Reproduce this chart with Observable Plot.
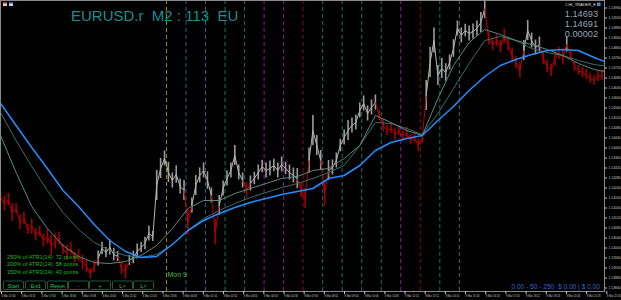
<!DOCTYPE html>
<html><head><meta charset="utf-8">
<script src="https://cdn.jsdelivr.net/npm/d3@7"></script>
<script src="https://cdn.jsdelivr.net/npm/@observablehq/plot@0.6"></script>
<style>html,body{margin:0;padding:0;background:#000;overflow:hidden}</style>
</head><body><div id="chart"></div>
<script>
// ---- data (EURUSD.r, M2 bars) ----
const barsPerPriceSample = 6;
const barsPerMaSample = 24;
const totalBars = 928;
const sessionStartBar = 255;   // Mon 9 Mar 00:00
const barsPerHour = 30;

const price = [1.14206,1.14178,1.14194,1.14142,1.14158,1.14102,1.14118,1.14074,1.14086,1.14054,
1.14066,1.14030,1.14046,1.14010,1.14026,1.14038,1.13994,1.13982,1.13998,1.13962,
1.13970,1.13942,1.13926,1.13898,1.13926,1.13958,1.13998,1.13982,1.14002,1.13974,
1.13966,1.13918,1.13906,1.13950,1.13962,1.13986,1.14002,1.14018,1.14058,1.14046,
1.14250,1.14318,1.14358,1.14302,1.14270,1.14294,1.14246,1.14230,1.14102,1.14170,
1.14250,1.14290,1.14310,1.14270,1.14210,1.14062,1.14170,1.14238,1.14278,1.14310,
1.14370,1.14302,1.14270,1.14230,1.14258,1.14278,1.14302,1.14326,1.14310,1.14318,
1.14330,1.14310,1.14334,1.14318,1.14302,1.14290,1.14278,1.14230,1.14198,1.14350,
1.14470,1.14410,1.14350,1.14218,1.14310,1.14322,1.14350,1.14410,1.14442,1.14470,
1.14490,1.14502,1.14550,1.14578,1.14538,1.14562,1.14582,1.14530,1.14490,1.14470,
1.14478,1.14454,1.14470,1.14446,1.14458,1.14434,1.14442,1.14410,1.14438,1.14610,
1.14742,1.14830,1.14690,1.14718,1.14702,1.14742,1.14798,1.14878,1.14850,1.14870,
1.14858,1.14866,1.14878,1.14902,1.14958,1.14838,1.14814,1.14830,1.14806,1.14846,
1.14814,1.14770,1.14742,1.14710,1.14790,1.14870,1.14830,1.14802,1.14814,1.14758,
1.14726,1.14710,1.14758,1.14778,1.14762,1.14814,1.14770,1.14726,1.14710,1.14702,
1.14694,1.14678,1.14670,1.14686,1.14690];

// high-low swing of the bars around each sample, in points (0.00001)
const swing = [40,60,50,70,40,60,50,40,60,50,40,50,60,80,60,50,40,60,50,40,50,60,50,40,50,
60,50,40,60,50,40,50,60,40,50,60,40,50,60,40,
120,80,60,80,60,70,60,80,100,60,80,60,60,70,60,100,80,60,60,60,80,
60,60,60,60,50,60,50,60,60,50,60,60,50,60,60,80,60,80,100,120,80,80,100,80,60,60,50,60,80,60,60,60,60,60,60,60,
40,50,40,40,50,40,40,50,40,40,50,40,
120,120,100,80,80,70,60,70,60,60,50,60,60,60,80,80,
50,50,50,50,60,50,60,50,60,80,80,60,60,60,50,50,50,60,50,60,60,40,40,40,40,40,40,40,40,40];

// sample index ranges where the price is drawn red (down trend)
const downRanges = [[0,24],[31,32],[48,48],[55,55],[63,63],[77,78],[83,83],[97,108],[125,133],[139,144],[146,154]];

const maFast = [1.14450,1.14302,1.14166,1.14078,1.14010,1.13966,1.13942,1.13938,1.13946,1.13970,
1.14010,1.14078,1.14158,1.14190,1.14190,1.14218,1.14238,1.14258,1.14278,1.14286,
1.14310,1.14318,1.14358,1.14410,1.14530,1.14502,1.14470,1.14450,1.14598,1.14730,
1.14822,1.14874,1.14854,1.14830,1.14814,1.14794,1.14770,1.14738,1.14714,1.14702];

const maMid = [1.14542,1.14430,1.14326,1.14230,1.14142,1.14074,1.14022,1.13990,1.13970,1.13962,
1.13974,1.14014,1.14070,1.14118,1.14150,1.14178,1.14202,1.14222,1.14242,1.14258,
1.14278,1.14302,1.14330,1.14410,1.14502,1.14498,1.14478,1.14454,1.14538,1.14638,
1.14738,1.14830,1.14846,1.14830,1.14798,1.14782,1.14770,1.14750,1.14734,1.14726];

const maSlow = [1.14578,1.14490,1.14402,1.14318,1.14230,1.14166,1.14094,1.14030,1.13986,1.13962,
1.13966,1.14014,1.14070,1.14110,1.14138,1.14162,1.14182,1.14198,1.14214,1.14226,
1.14238,1.14278,1.14290,1.14330,1.14390,1.14422,1.14438,1.14450,1.14510,1.14566,
1.14630,1.14686,1.14730,1.14754,1.14774,1.14790,1.14794,1.14790,1.14762,1.14738];

// hourly separators from Mon 9 00:00 to 15:00
const hourLineColors = ["#a88a00","#2c5f8f","#2c5f8f","#1d6f6f","#1d6f6f","#8e1d8e","#8e1d8e","#8c0a0a",
"#1d6f6f","#1d6f6f","#1d6f6f","#1d6f6f","#8e1d8e","#8c0a0a","#1d6f6f","#3f6f6f"];

const timeLabelStep = 31;
const timeLabels = ["6 Mar 15:30","6 Mar 16:32","6 Mar 17:34","6 Mar 18:36","6 Mar 19:38","6 Mar 20:40",
"6 Mar 21:42","6 Mar 22:44","6 Mar 23:46","9 Mar 00:48","9 Mar 01:50","9 Mar 02:52","9 Mar 03:54",
"9 Mar 04:56","9 Mar 05:58","9 Mar 07:00","9 Mar 08:02","9 Mar 09:04","9 Mar 10:06","9 Mar 11:08",
"9 Mar 12:10","9 Mar 13:12","9 Mar 14:14","9 Mar 15:16","9 Mar 16:18","9 Mar 17:20","9 Mar 18:22",
"9 Mar 19:24","9 Mar 20:26","9 Mar 21:28","9 Mar 22:30"];

const priceTicks = [1.1496,1.1492,1.1488,1.1484,1.1480,1.1476,1.1472,1.1468,1.1464,1.1460,1.1456,
1.1452,1.1448,1.1444,1.1440,1.1436,1.1432,1.1428,1.1424,1.1420,1.1416,1.1412,1.1408,1.1404,1.1400,
1.1396,1.1392,1.1388,1.1384];
const priceDomain = [1.13826, 1.14990];

const bidAsk = ["1.14693","1.14691","0.00002"];
const atrLines = ["250% of ATR1(14): 72 points","200% of ATR2(14): 58 points","150% of ATR3(14): 43 points"];
const buttons = ["Start","End","Reset","-","+","L>","L<"];
const titleText = "EURUSD.r  M2 : 113  EU";
const footerText = "0.00 - 50 - 250  $ 0.00 | $ 0.00";
const indicatorName = "#-HI_TRADER_E";

// ---- build ----
const RED = "#b80000", GREY = "#b4b4b4";
const isDown = i => downRanges.some(([a,b]) => i >= a && i <= b);
const segs = price.slice(1).map((p, k) => ({
  x1: k*barsPerPriceSample, y1: price[k], x2: (k+1)*barsPerPriceSample, y2: p,
  c: (isDown(k) || isDown(k+1)) ? RED : GREY
}));
const bars = price.map((p, i) => ({
  x: i*barsPerPriceSample, lo: p - swing[i]*0.5e-5, hi: p + swing[i]*0.5e-5, c: isDown(i) ? "#a00000" : "#9c9c9c"
}));
const hours = hourLineColors.map((c,h) => ({bar: sessionStartBar + h*barsPerHour, c}));
const timeTicks = timeLabels.map((t,i) => i*timeLabelStep);
const maX = (d,i) => i*barsPerMaSample;

const W = 621, H = 300;
const font = "'Liberation Sans', Arial, sans-serif";
const svg = Plot.plot({
  width: W, height: H,
  marginTop: 0, marginBottom: 9, marginLeft: 0, marginRight: 17,
  style: {background: "#000", fontFamily: font, overflow: "visible"},
  x: {domain: [0, totalBars], axis: null},
  y: {domain: priceDomain, axis: null},
  color: {type: "identity"},
  marks: [
    Plot.ruleX(hours, {x: "bar", stroke: "c", strokeDasharray: "4,3", strokeWidth: 1}),
    Plot.ruleX(bars, {x: "x", y1: "lo", y2: "hi", stroke: "c", strokeWidth: 1.6}),
    Plot.link(segs, {x1: "x1", y1: "y1", x2: "x2", y2: "y2", stroke: "c", strokeWidth: 1}),
    Plot.line(maMid, {x: maX, y: d => d, stroke: "#3e6e66", strokeWidth: 1, clip: true}),
    Plot.line(maFast, {x: maX, y: d => d, stroke: "#5a8a80", strokeWidth: 1, clip: true}),
    Plot.line(maSlow, {x: maX, y: d => d, stroke: "#1e90ff", strokeWidth: 1.5, clip: true}),
    Plot.text(["Mon 9"], {x: sessionStartBar, frameAnchor: "bottom", dy: -15, dx: 1, textAnchor: "start", fill: "#3fbf3f", fontSize: 7}),
    Plot.frame({stroke: "#8a8a8a"}),
    Plot.axisY({anchor: "right", ticks: priceTicks, tickFormat: d => d.toFixed(5), tickSize: 2, tickPadding: 2,
      fontSize: 3.4, color: "#c8c8c8", label: null}),
    Plot.axisX({anchor: "bottom", ticks: timeTicks, tickFormat: (d,i) => timeLabels[i], tickSize: 3, tickPadding: 1,
      textAnchor: "start", dx: 1, fontSize: 2.6, color: "#c8c8c8", label: null})
  ]
});
document.getElementById("chart").appendChild(svg);

// ---- overlay texts / widgets ----
const s = d3.select(svg);
const txt = (x, y, t, fill, size, anchor = "start") => s.append("text").attr("x", x).attr("y", y)
  .attr("text-anchor", anchor).attr("fill", fill).attr("font-size", size).attr("font-family", font)
  .style("white-space", "pre").text(t);
txt(71, 21, titleText, "#1a8f8f", 15);
// top-left icons
s.append("rect").attr("x", 3).attr("y", 2).attr("width", 4).attr("height", 4).attr("fill", "#d0d0d0");
s.append("rect").attr("x", 3).attr("y", 2).attr("width", 4).attr("height", 1.5).attr("fill", "#c03030");
s.append("rect").attr("x", 9).attr("y", 2).attr("width", 4).attr("height", 4).attr("fill", "#d0d0d0");
s.append("rect").attr("x", 9).attr("y", 2).attr("width", 4).attr("height", 1.5).attr("fill", "#3050c0");
// indicator name
txt(596, 6, indicatorName, "#e0e0e0", 4, "end");
s.append("rect").attr("x", 597).attr("y", 2.5).attr("width", 3.5).attr("height", 3.5).attr("fill", "#3a8ee0");
bidAsk.forEach((t,i) => txt(598, 16.5 + i*10.3, t, "#95a5bb", 9.2, "end"));
atrLines.forEach((t,i) => txt(7, 259 + i*7.4, t, "#1fb81f", 5.6));
const bx = [3,25,47,68,89,112,133], bw = [20,20,20,20,21,20,20];
buttons.forEach((t,i) => {
  s.append("rect").attr("x", bx[i]+0.5).attr("y", 281).attr("width", bw[i]).attr("height", 8.5).attr("rx", 1)
    .attr("fill", "#000").attr("stroke", "#1f5a3c").attr("stroke-width", 1);
  txt(bx[i] + bw[i]/2 + 0.5, 287.5, t, "#22c05a", 5.6, "middle");
});
txt(600, 288.5, footerText, "#2a6acb", 6.6, "end");
</script></body></html>
